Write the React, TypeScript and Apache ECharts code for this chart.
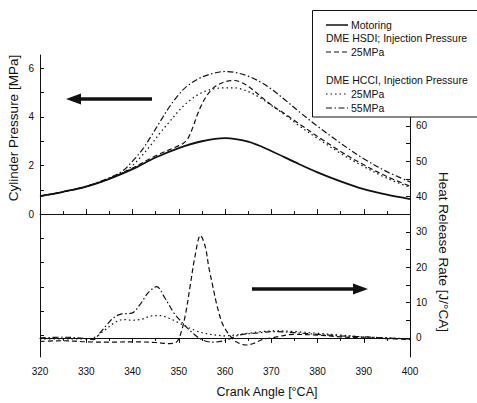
import React, { useEffect, useRef } from "react";
import * as echarts from "echarts";

// ---- Data ----
// Cylinder pressure [MPa]
const angMotoring = [320, 325, 330, 335, 340, 345, 350, 355, 360, 365, 370, 375, 380, 385, 390, 395, 400];
const pMotoring = [0.74, 0.92, 1.13, 1.45, 1.85, 2.33, 2.72, 3.0, 3.13, 2.98, 2.6, 2.15, 1.72, 1.35, 1.03, 0.8, 0.62];

const angHsdi = [320, 325, 330, 335, 340, 345, 350, 351, 352, 353, 354, 355, 356, 357, 358, 360, 362, 364, 366, 368, 370, 373, 376, 380, 385, 390, 395, 400];
const pHsdi = [0.74, 0.92, 1.14, 1.47, 1.9, 2.4, 2.82, 2.92, 3.12, 3.55, 4.08, 4.52, 4.86, 5.1, 5.27, 5.45, 5.5, 5.38, 5.12, 4.8, 4.5, 4.12, 3.72, 3.2, 2.58, 2.03, 1.55, 1.15];

const angHcci25 = [320, 325, 330, 335, 338, 340, 342, 344, 346, 348, 350, 352, 354, 356, 358, 360, 362, 364, 366, 368, 370, 373, 376, 380, 385, 390, 395, 400];
const pHcci25 = [0.74, 0.92, 1.13, 1.45, 1.72, 2.0, 2.4, 2.85, 3.35, 3.8, 4.25, 4.62, 4.9, 5.08, 5.17, 5.2, 5.2, 5.12, 4.96, 4.74, 4.48, 4.08, 3.64, 3.12, 2.5, 1.96, 1.48, 1.1];

const angHcci55 = [320, 325, 330, 335, 338, 340, 342, 344, 346, 348, 350, 352, 355, 358, 360, 362, 365, 368, 370, 373, 376, 380, 385, 390, 395, 400];
const pHcci55 = [0.74, 0.92, 1.15, 1.5, 1.8, 2.18, 2.62, 3.2, 3.82, 4.42, 4.92, 5.3, 5.64, 5.82, 5.87, 5.84, 5.68, 5.4, 5.15, 4.7, 4.22, 3.62, 2.92, 2.28, 1.75, 1.33];

// Heat release rate [J/°CA]
const angHsdiHrr = [320, 325, 330, 335, 340, 345, 348, 349.5, 350.5, 351.5, 352.5, 353.5, 354.7, 355.7, 356.5, 357.3, 358.3, 359.3, 360.3, 361.3, 362.4, 364.6, 366.5, 368, 370, 375, 380, 385, 390, 395, 400];
const hrrHsdi = [-1, -0.8, -1.1, -1.2, -1.1, -1.3, -1.6, -1.2, 1.5, 7, 15, 23, 29, 26, 20, 15, 9, 4.5, 2, 0.3, -1.1, -2, -1.4, -0.5, 0, 1, 0.8, 0.3, 0, -0.2, -0.5];

const angHcci25Hrr = [320, 325, 330, 332, 334, 336, 338, 340, 342, 344, 346, 348, 350, 352, 354, 356, 358, 360, 362, 365, 368, 371, 375, 380, 385, 390, 395, 400];
const hrrHcci25 = [-0.3, -0.3, -0.3, 0.3, 2.2, 4.2, 5.2, 5.0, 5.3, 6.2, 6.3, 5.5, 4.3, 3.0, 1.9, 1.2, 0.8, 0.6, 0.8, 1.3, 1.8, 2.0, 1.8, 1.3, 0.8, 0.3, 0, -0.3];

const angHcci55Hrr = [320, 325, 330, 331.5, 333, 334.5, 336, 337.7, 339.8, 341.6, 343.4, 345.2, 347, 349, 351, 353, 355, 357.3, 360.3, 363, 367, 371, 375, 380, 385, 390, 395, 400];
const hrrHcci55 = [0, 0.2, -0.2, -0.5, 1.5, 3.8, 5.8, 6.8, 7.0, 9.4, 12.8, 14.5, 11.3, 7, 4, 1.4, -0.5, -1.2, -0.6, 0.8, 1.4, 1.8, 1.5, 1, 0.6, 0.3, 0, -0.3];

// Axis ticks
const pressureLabels = [0, 2, 4, 6];
const pressureTicks = [-5, -4, -3, -2, -1, 0, 1, 2, 3, 4, 5, 6];
const hrrLabels = [0, 10, 20, 30, 40, 50, 60];
const hrrTicks = [0, 5, 10, 15, 20, 25, 30, 35, 40, 45, 50, 55, 60];

const FONT = "'Liberation Sans', Arial, sans-serif";
const INK = "#111";

const zip = (a: number[], b: number[]) => a.map((x, i) => [x, b[i]]);

const DASHED = [5, 3];
const DOTTED = [1.5, 3];
const DASHDOT = [6, 2.5, 1.5, 2.5];

export default function App() {
  const ref = useRef<HTMLDivElement>(null);
  useEffect(() => {
    if (!ref.current) return;
    const chart = echarts.init(ref.current, null, { renderer: "svg" });
    const axisLineStyle = { color: INK, width: 1 };
    const line = (name: string, data: number[][], yIdx: number, dash: any, width = 1.2) => ({
      name,
      type: "line",
      yAxisIndex: yIdx,
      data,
      showSymbol: false,
      smooth: 0.35,
      lineStyle: { color: INK, width, type: dash },
      z: 3,
    });
    const legendLine = (y: number, dash: any, width = 1.2) => ({
      type: "line",
      z: 101,
      shape: { x1: 326, y1: y, x2: 348, y2: y },
      style: { stroke: INK, lineWidth: width, lineDash: dash },
    });
    const legendText = (x: number, y: number, text: string) => ({
      type: "text",
      z: 101,
      x,
      y,
      style: { text, fill: INK, font: `10.5px ${FONT}`, verticalAlign: "middle", align: "left" },
    });
    chart.setOption({
      animation: false,
      backgroundColor: "#fff",
      grid: { left: 40, right: 67, top: 55, bottom: 46 },
      xAxis: [
        {
          type: "value",
          min: 320,
          max: 400,
          interval: 10,
          position: "bottom",
          axisLine: { lineStyle: axisLineStyle },
          axisTick: { inside: true, length: 5, lineStyle: axisLineStyle },
          minorTick: { show: true, splitNumber: 2, length: 3, lineStyle: axisLineStyle },
          axisLabel: { color: INK, fontSize: 10, margin: 9, fontFamily: FONT },
          splitLine: { show: false },
          minorSplitLine: { show: false },
        },
        {
          type: "value",
          min: 320,
          max: 400,
          interval: 10,
          position: "top",
          axisLine: { lineStyle: axisLineStyle },
          axisTick: { inside: true, length: 5, lineStyle: axisLineStyle },
          minorTick: { show: true, splitNumber: 2, length: 3, lineStyle: axisLineStyle },
          axisLabel: { show: false },
          splitLine: { show: false },
        },
      ],
      yAxis: [
        {
          type: "value",
          position: "left",
          min: -5.88,
          max: 6.55,
          axisLine: { show: true, lineStyle: axisLineStyle },
          axisTick: { show: true, inside: true, length: 4, lineStyle: axisLineStyle, customValues: pressureTicks },
          axisLabel: { color: INK, fontSize: 10, margin: 6, fontFamily: FONT, customValues: pressureLabels },
          splitLine: { show: false },
        },
        {
          type: "value",
          position: "right",
          min: -5.4,
          max: 80.1,
          axisLine: { show: true, lineStyle: axisLineStyle },
          axisTick: { show: true, inside: true, length: 4, lineStyle: axisLineStyle, customValues: hrrTicks },
          axisLabel: { color: INK, fontSize: 10, margin: 6, fontFamily: FONT, customValues: hrrLabels },
          splitLine: { show: false },
        },
      ],
      series: [
        line("Motoring", zip(angMotoring, pMotoring), 0, "solid", 1.8),
        line("HSDI 25MPa", zip(angHsdi, pHsdi), 0, DASHED),
        line("HCCI 25MPa", zip(angHcci25, pHcci25), 0, DOTTED),
        line("HCCI 55MPa", zip(angHcci55, pHcci55), 0, DASHDOT),
        line("HSDI 25MPa HRR", zip(angHsdiHrr, hrrHsdi), 1, DASHED),
        line("HCCI 25MPa HRR", zip(angHcci25Hrr, hrrHcci25), 1, DOTTED),
        line("HCCI 55MPa HRR", zip(angHcci55Hrr, hrrHcci55), 1, DASHDOT),
      ],
      graphic: [
        // axis titles
        {
          type: "text",
          z: 101,
          x: 13,
          y: 128,
          rotation: Math.PI / 2,
          style: { text: "Cylinder Pressure [MPa]", fill: INK, font: `13.5px ${FONT}`, align: "center", verticalAlign: "middle" },
        },
        {
          type: "text",
          z: 101,
          x: 443,
          y: 252,
          rotation: -Math.PI / 2,
          style: { text: "Heat Release Rate [J/°CA]", fill: INK, font: `13.5px ${FONT}`, align: "center", verticalAlign: "middle" },
        },
        {
          type: "text",
          z: 101,
          x: 267,
          y: 392,
          style: { text: "Crank Angle [°CA]", fill: INK, font: `12.5px ${FONT}`, align: "center", verticalAlign: "middle" },
        },
        // arrows
        { type: "line", z: 101, shape: { x1: 78, y1: 99, x2: 152, y2: 99 }, style: { stroke: INK, lineWidth: 3.5 } },
        { type: "polygon", z: 101, shape: { points: [[66, 99], [81, 93.5], [81, 104.5]] }, style: { fill: INK } },
        { type: "line", z: 101, shape: { x1: 252, y1: 289, x2: 356, y2: 289 }, style: { stroke: INK, lineWidth: 3.5 } },
        { type: "polygon", z: 101, shape: { points: [[368, 289], [353, 283.5], [353, 294.5]] }, style: { fill: INK } },
        // legend box
        { type: "rect", z: 100, shape: { x: 312.5, y: 10.5, width: 180, height: 106.5 }, style: { fill: "#fff", stroke: INK, lineWidth: 1 } },
        legendLine(25, "solid", 1.5),
        legendText(351, 25, "Motoring"),
        legendText(326, 38, "DME HSDI; Injection Pressure"),
        legendLine(52, DASHED),
        legendText(351, 52, "25MPa"),
        legendText(326, 80, "DME HCCI, Injection Pressure"),
        legendLine(94, DOTTED),
        legendText(351, 94, "25MPa"),
        legendLine(108, DASHDOT),
        legendText(351, 108, "55MPa"),
      ],
    });
    return () => chart.dispose();
  }, []);
  return (
    <div
      ref={ref}
      style={{ position: "absolute", left: 0, top: 0, width: 477, height: 403, background: "#fff" }}
    />
  );
}
